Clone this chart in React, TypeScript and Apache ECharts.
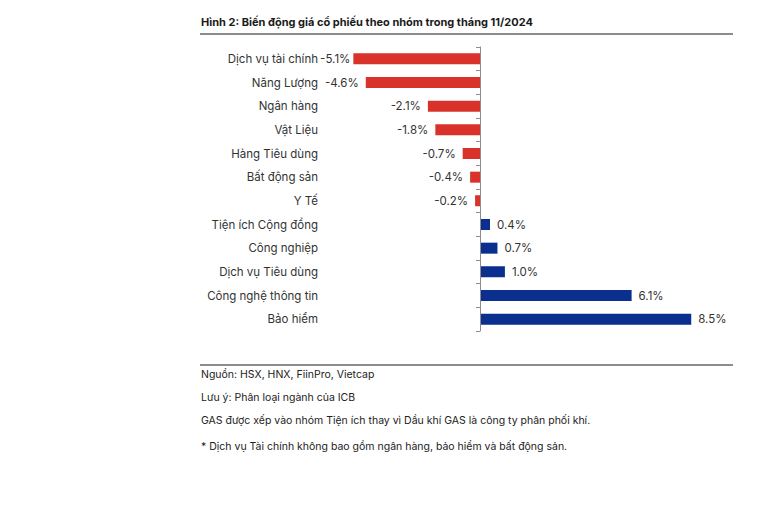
import React, { useEffect, useRef } from "react";
import * as echarts from "echarts";

const titleText = "Hình 2: Biến động giá cổ phiếu theo nhóm trong tháng 11/2024";
const categories = [
  "Dịch vụ tài chính",
  "Năng Lượng",
  "Ngân hàng",
  "Vật Liệu",
  "Hàng Tiêu dùng",
  "Bất động sản",
  "Y Tế",
  "Tiện ích Cộng đồng",
  "Công nghiệp",
  "Dịch vụ Tiêu dùng",
  "Công nghệ thông tin",
  "Bảo hiểm",
];
const values = [-5.1, -4.6, -2.1, -1.8, -0.7, -0.4, -0.2, 0.4, 0.7, 1.0, 6.1, 8.5];
const notes = [
  "Nguồn: HSX, HNX, FiinPro, Vietcap",
  "Lưu ý: Phân loại ngành của ICB",
  "GAS được xếp vào nhóm Tiện ích thay vì Dầu khí GAS là công ty phân phối khí.",
  "* Dịch vụ Tài chính không bao gồm ngân hàng, bảo hiểm và bất động sản.",
];

const RED = "#d8322a";
const BLUE = "#0b2f8f";
const FONT = "Inter, 'Noto Sans', sans-serif";

export default function App() {
  const ref = useRef<HTMLDivElement>(null);
  useEffect(() => {
    if (!ref.current) return;
    const chart = echarts.init(ref.current, undefined, { renderer: "svg" });
    const noteY = [376, 399, 422, 448];
    chart.setOption({
      animation: false,
      backgroundColor: "#ffffff",
      grid: { left: 331, right: 31.5, top: 47, bottom: 175 },
      xAxis: {
        type: "value",
        min: -6,
        max: 10,
        axisLine: { show: false },
        axisTick: { show: false },
        axisLabel: { show: false },
        splitLine: { show: false },
      },
      yAxis: {
        type: "category",
        data: categories,
        inverse: true,
        position: "left",
        offset: -149,
        z: 5,
        axisLine: { show: true, onZero: false, lineStyle: { color: "#8c8c8c", width: 1 } },
        axisTick: { show: true, length: 4, lineStyle: { color: "#8c8c8c" } },
        axisLabel: {
          margin: 162,
          color: "#333333",
          fontSize: 11.5,
          fontFamily: FONT,
        },
        splitLine: { show: false },
      },
      series: [
        {
          type: "bar",
          barWidth: 11,
          data: values.map((v, i) => ({
            value: v,
            itemStyle: { color: v < 0 ? RED : BLUE },
            label: { position: v < 0 ? "left" : "right", distance: i === 0 ? 3 : 7 },
          })),
          label: {
            show: true,
            distance: 7,
            color: "#333333",
            fontSize: 11.5,
            fontFamily: FONT,
            formatter: (p: any) => p.value.toFixed(1) + "%",
          },
        },
      ],
      graphic: [
        {
          type: "text",
          left: 201,
          top: 16,
          style: {
            text: titleText,
            font: `bold 11px ${FONT}`,
            fill: "#1a1a1a",
          },
        },
        {
          type: "line",
          shape: { x1: 200, y1: 34, x2: 733, y2: 34 },
          style: { stroke: "#1a1a1a", lineWidth: 1 },
        },
        {
          type: "line",
          shape: { x1: 200, y1: 365, x2: 733, y2: 365 },
          style: { stroke: "#1a1a1a", lineWidth: 1 },
        },
        ...notes.map((t, i) => ({
          type: "text",
          left: 201,
          top: noteY[i] - 7,
          style: {
            text: t,
            font: `10.5px ${FONT}`,
            fill: "#222222",
          },
        })),
      ],
    });
    return () => chart.dispose();
  }, []);
  return (
    <div
      ref={ref}
      style={{ position: "absolute", left: 0, top: 0, width: 760, height: 506 }}
    />
  );
}
